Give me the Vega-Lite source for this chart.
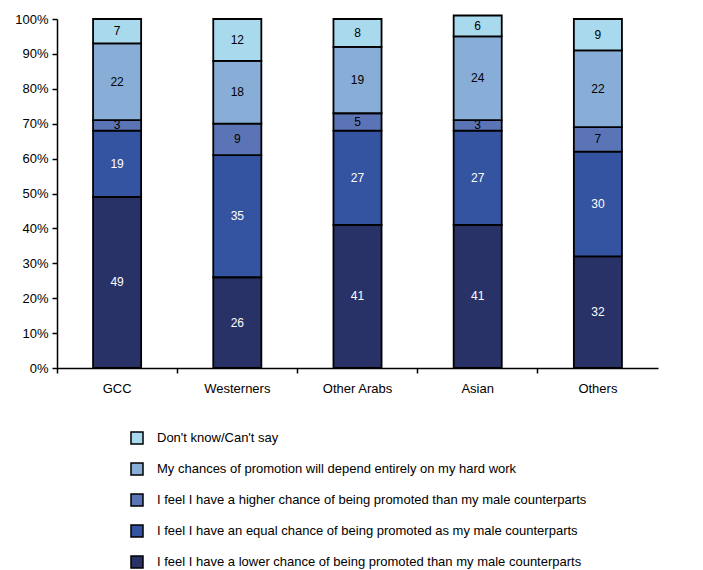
{
  "$schema": "https://vega.github.io/schema/vega-lite/v6.json",
  "width": 601,
  "height": 349,
  "autosize": {"type": "none"},
  "padding": {"left": 57, "top": 19, "right": 45, "bottom": 202},
  "background": "white",
  "config": {"font": "Liberation Sans", "view": {"stroke": null}},
  "data": {
    "values": [
      {"cat": "GCC", "series": "I feel I have a lower chance of being promoted than my male counterparts", "o": 1, "v": 49},
      {"cat": "GCC", "series": "I feel I have an equal chance of being promoted as my male counterparts", "o": 2, "v": 19},
      {"cat": "GCC", "series": "I feel I have a higher chance of being promoted than my male counterparts", "o": 3, "v": 3},
      {"cat": "GCC", "series": "My chances of promotion will depend entirely on my hard work", "o": 4, "v": 22},
      {"cat": "GCC", "series": "Don't know/Can't say", "o": 5, "v": 7},
      {"cat": "Westerners", "series": "I feel I have a lower chance of being promoted than my male counterparts", "o": 1, "v": 26},
      {"cat": "Westerners", "series": "I feel I have an equal chance of being promoted as my male counterparts", "o": 2, "v": 35},
      {"cat": "Westerners", "series": "I feel I have a higher chance of being promoted than my male counterparts", "o": 3, "v": 9},
      {"cat": "Westerners", "series": "My chances of promotion will depend entirely on my hard work", "o": 4, "v": 18},
      {"cat": "Westerners", "series": "Don't know/Can't say", "o": 5, "v": 12},
      {"cat": "Other Arabs", "series": "I feel I have a lower chance of being promoted than my male counterparts", "o": 1, "v": 41},
      {"cat": "Other Arabs", "series": "I feel I have an equal chance of being promoted as my male counterparts", "o": 2, "v": 27},
      {"cat": "Other Arabs", "series": "I feel I have a higher chance of being promoted than my male counterparts", "o": 3, "v": 5},
      {"cat": "Other Arabs", "series": "My chances of promotion will depend entirely on my hard work", "o": 4, "v": 19},
      {"cat": "Other Arabs", "series": "Don't know/Can't say", "o": 5, "v": 8},
      {"cat": "Asian", "series": "I feel I have a lower chance of being promoted than my male counterparts", "o": 1, "v": 41},
      {"cat": "Asian", "series": "I feel I have an equal chance of being promoted as my male counterparts", "o": 2, "v": 27},
      {"cat": "Asian", "series": "I feel I have a higher chance of being promoted than my male counterparts", "o": 3, "v": 3},
      {"cat": "Asian", "series": "My chances of promotion will depend entirely on my hard work", "o": 4, "v": 24},
      {"cat": "Asian", "series": "Don't know/Can't say", "o": 5, "v": 6},
      {"cat": "Others", "series": "I feel I have a lower chance of being promoted than my male counterparts", "o": 1, "v": 32},
      {"cat": "Others", "series": "I feel I have an equal chance of being promoted as my male counterparts", "o": 2, "v": 30},
      {"cat": "Others", "series": "I feel I have a higher chance of being promoted than my male counterparts", "o": 3, "v": 7},
      {"cat": "Others", "series": "My chances of promotion will depend entirely on my hard work", "o": 4, "v": 22},
      {"cat": "Others", "series": "Don't know/Can't say", "o": 5, "v": 9}
    ]
  },
  "transform": [
    {"stack": "v", "groupby": ["cat"], "sort": [{"field": "o", "order": "ascending"}], "as": ["y0", "y1"]},
    {"calculate": "(datum.y0 + datum.y1) / 2", "as": "ymid"}
  ],
  "layer": [
    {
      "mark": {"type": "bar", "width": {"band": 0.4}, "stroke": "black", "strokeWidth": 1.8, "clip": false},
      "encoding": {
        "x": {
          "field": "cat", "type": "nominal",
          "sort": ["GCC", "Westerners", "Other Arabs", "Asian", "Others"],
          "scale": {"paddingInner": 0, "paddingOuter": 0},
          "axis": {"orient": "bottom", "title": null, "labelAngle": 0, "ticks": false, "domainColor": "black", "domainWidth": 1.5, "labelFontSize": 13, "labelColor": "black", "labelPadding": 14}
        },
        "y": {
          "field": "y0", "type": "quantitative",
          "scale": {"domain": [0, 100], "nice": false},
          "axis": {"orient": "left", "title": null, "values": [0, 10, 20, 30, 40, 50, 60, 70, 80, 90, 100], "labelOverlap": false, "labelExpr": "datum.value + '%'", "grid": false, "domainColor": "black", "domainWidth": 1.5, "tickColor": "black", "tickWidth": 1.5, "tickSize": 5, "labelFontSize": 13, "labelColor": "black", "labelPadding": 4}
        },
        "y2": {"field": "y1"},
        "color": {
          "field": "series", "type": "nominal",
          "scale": {
            "domain": [
              "Don't know/Can't say",
              "My chances of promotion will depend entirely on my hard work",
              "I feel I have a higher chance of being promoted than my male counterparts",
              "I feel I have an equal chance of being promoted as my male counterparts",
              "I feel I have a lower chance of being promoted than my male counterparts"
            ],
            "range": ["#A9D9EC", "#88ADD6", "#5B74B5", "#3453A0", "#283267"]
          },
          "legend": {"orient": "none", "legendX": 73, "legendY": 412, "title": null, "symbolType": "square", "symbolSize": 144, "symbolStrokeColor": "black", "symbolStrokeWidth": 1.5, "labelFontSize": 13, "labelColor": "black", "rowPadding": 13, "labelOffset": 13, "padding": 0, "labelLimit": 700}
        }
      }
    },
    {
      "mark": {"type": "text", "fontSize": 12, "baseline": "middle"},
      "encoding": {
        "x": {"field": "cat", "type": "nominal", "sort": ["GCC", "Westerners", "Other Arabs", "Asian", "Others"], "axis": {"orient": "bottom", "title": null, "labels": false, "ticks": true, "bandPosition": 0, "domain": false, "tickSize": 5, "tickWidth": 1.5, "tickColor": "black"}},
        "y": {"field": "ymid", "type": "quantitative", "axis": null},
        "text": {"field": "v"},
        "color": {"condition": {"test": "datum.o <= 2", "value": "white"}, "value": "black"}
      }
    }
  ],
  "resolve": {"axis": {"x": "independent", "y": "independent"}}
}
